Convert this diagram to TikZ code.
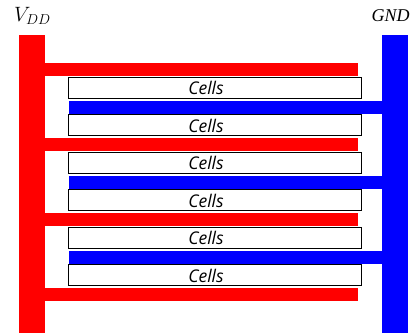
\documentclass[tikz,border=0pt]{standalone}
\usepackage{fontspec}
\newfontfamily\cellfont{Open Sans}
\newfontfamily\gndfont{Liberation Serif}
\begin{document}
\begin{tikzpicture}[x=1pt,y=-1pt,
  vddrail/.style={fill=red},
  gndrail/.style={fill=blue},
  cellbox/.style={draw=black, line width=0.9pt, fill=white, minimum width=293pt, minimum height=21pt, inner sep=0pt},
  celltext/.style={inner sep=0pt, font=\cellfont\itshape\fontsize{17.5}{17.5}\selectfont},
  railname/.style={inner sep=0pt}]
\useasboundingbox (0,0) rectangle (412,333);
% rails
\fill[vddrail] (19,35) rectangle (45,333);
\fill[gndrail] (382,35) rectangle (408,333);
% VDD straps
\foreach \y in {63,138,213,288} \fill[vddrail] (45,\y) rectangle (358,\y+13);
% GND straps
\foreach \y in {100.5,175.5,250.5} \fill[gndrail] (69,\y) rectangle (382,\y+13);
% cells
\foreach \i/\y in {1/87.5,2/125,3/162.5,4/200,5/237.5,6/275} {
  \node[cellbox] (c\i) at (214.5,\y) {};
  \node[celltext] (t\i) at ([xshift=-8.5pt,yshift=-0.5pt]c\i.center) {Cells};
}
% labels
\node[railname, font=\fontsize{20.5}{20.5}\selectfont] (vdd) at (32.5,16) {$V_{DD}$};
\node[railname, anchor=west, font=\gndfont\itshape\fontsize{18}{18}\selectfont] (gnd) at (371.5,16) {GND};
\end{tikzpicture}
\end{document}
